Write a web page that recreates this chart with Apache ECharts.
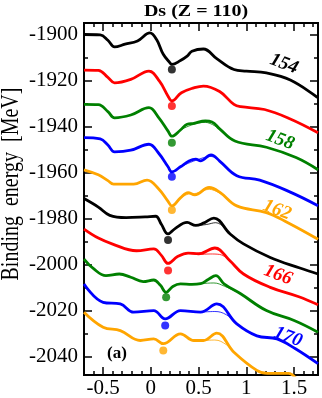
<!DOCTYPE html>
<html><head><meta charset="utf-8">
<script src="https://cdn.jsdelivr.net/npm/echarts@6/dist/echarts.min.js"></script>
<style>html,body{margin:0;padding:0;background:#fff}#c{width:322px;height:398px}</style>
</head><body><div id="c"></div>
<script>
// ---- data (x = deformation, y = binding energy MeV) ----
const c154 = [[-0.7,-1900],[-0.53,-1900.2],[-0.45,-1902.5],[-0.38,-1905.4],[-0.27,-1904.2],[-0.14,-1902.8],[-0.01,-1899.3],[0.06,-1902.2],[0.13,-1908.6],[0.2,-1912.3],[0.22,-1913],[0.31,-1911.3],[0.38,-1909.4],[0.43,-1907.3],[0.55,-1906.3],[0.69,-1910.5],[0.87,-1915.2],[1.0,-1915.9],[1.21,-1916.7],[1.46,-1919.8],[1.75,-1927.5]];
const c156 = [[-0.7,-1915.5],[-0.55,-1915.6],[-0.45,-1918.6],[-0.38,-1921],[-0.21,-1919.5],[-0.02,-1915.9],[0.09,-1920.3],[0.18,-1926.8],[0.22,-1928.9],[0.32,-1925.3],[0.45,-1923.2],[0.55,-1922.4],[0.72,-1924.8],[0.87,-1930.4],[0.94,-1931.4],[1.19,-1932.6],[1.46,-1936.7],[1.75,-1942.7]];
const c158 = [[-0.7,-1930.4],[-0.55,-1930.5],[-0.45,-1933.5],[-0.38,-1936.2],[-0.21,-1935],[-0.02,-1931.8],[0.08,-1936],[0.18,-1942],[0.22,-1944.2],[0.31,-1941.5],[0.38,-1939],[0.45,-1938.6],[0.57,-1937.6],[0.64,-1938],[0.72,-1941],[0.88,-1946.3],[1.21,-1949],[1.52,-1953.5],[1.75,-1958.8]];
const c160 = [[-0.7,-1944.8],[-0.53,-1945.4],[-0.45,-1948],[-0.38,-1951],[-0.21,-1950.3],[-0.02,-1947.7],[0.08,-1951.5],[0.18,-1957.5],[0.22,-1959.7],[0.31,-1957.5],[0.4,-1955],[0.47,-1954.2],[0.52,-1954.9],[0.63,-1952.3],[0.72,-1955],[0.9,-1961.4],[1.14,-1963.3],[1.46,-1968.5],[1.75,-1974.4]];
const c162 = [[-0.7,-1958.8],[-0.55,-1961],[-0.45,-1963.5],[-0.39,-1965],[-0.18,-1965],[-0.04,-1963.3],[0.08,-1967],[0.18,-1972.5],[0.22,-1974.5],[0.31,-1971],[0.39,-1968.7],[0.46,-1969.7],[0.61,-1966.5],[0.72,-1968.5],[0.9,-1974.5],[1.21,-1977.4],[1.43,-1981.7],[1.75,-1989]];
const c164 = [[-0.7,-1971.3],[-0.55,-1975],[-0.43,-1978.6],[-0.26,-1979.6],[-0.06,-1979.3],[0.05,-1979],[0.11,-1982.5],[0.18,-1986.7],[0.25,-1984.5],[0.38,-1981.7],[0.47,-1983],[0.55,-1982],[0.66,-1979.8],[0.83,-1986.7],[0.97,-1991],[1.25,-1996.9],[1.56,-2001.5],[1.75,-2004.1]];
const c166 = [[-0.7,-1984.6],[-0.55,-1988.5],[-0.4,-1991.1],[-0.15,-1994],[0.03,-1993.2],[0.11,-1996],[0.18,-1999.5],[0.28,-1996.5],[0.39,-1995],[0.5,-1995.3],[0.67,-1992.8],[0.82,-1998],[0.97,-2004.1],[1.25,-2009.9],[1.55,-2014],[1.75,-2017.5]];
const c168 = [[-0.7,-1997.6],[-0.6,-2001.8],[-0.47,-2004.8],[-0.33,-2004.1],[-0.21,-2005.5],[-0.08,-2007.4],[0.03,-2006.7],[0.1,-2009],[0.16,-2012.1],[0.23,-2009.5],[0.31,-2008.4],[0.43,-2008.6],[0.52,-2008.3],[0.6,-2006.5],[0.68,-2004.8],[0.77,-2008.5],[0.94,-2012.7],[1.21,-2020],[1.5,-2024.3],[1.75,-2029.4]];
const c170 = [[-0.7,-2008.4],[-0.5,-2016.4],[-0.32,-2017.1],[-0.18,-2020.7],[0.03,-2020],[0.15,-2023.6],[0.31,-2020],[0.52,-2020.7],[0.69,-2017.1],[0.9,-2025.8],[1.11,-2031],[1.32,-2032.3],[1.51,-2036.5],[1.75,-2043.1]];
const c172 = [[-0.7,-2020.7],[-0.5,-2027.2],[-0.32,-2028.7],[-0.11,-2033],[0.03,-2032.3],[0.13,-2034.4],[0.31,-2030.1],[0.45,-2033],[0.55,-2033],[0.69,-2029.8],[0.87,-2038.1],[1.11,-2046],[1.22,-2047.3],[1.44,-2047.3],[1.56,-2051],[1.75,-2056]];

// thin (second calculation) curves where they differ
const t158 = [[0.31,-1941.5],[0.43,-1939.3],[0.57,-1938.2],[0.72,-1941.2]];
const t160 = [[0.31,-1957.5],[0.47,-1954.7],[0.63,-1953],[0.77,-1957.3]];
const t162 = [[0.31,-1971],[0.39,-1969.4],[0.48,-1969],[0.61,-1967.3],[0.77,-1970.3]];
const t164 = [[0.38,-1981.7],[0.47,-1983],[0.58,-1982.6],[0.68,-1981.8],[0.83,-1986.7]];
const t166 = [[0.39,-1995],[0.5,-1995.6],[0.62,-1995.4],[0.72,-1995.6],[0.82,-1998]];
const t168 = [[0.43,-2008.6],[0.52,-2008.3],[0.66,-2008],[0.77,-2009.4],[0.94,-2012.7]];
const t170 = [[0.52,-2020.7],[0.67,-2020.4],[0.79,-2021.8],[0.9,-2025.8]];
const t172 = [[0.55,-2033],[0.67,-2032.8],[0.79,-2034.8],[0.87,-2038.1]];

// ground-state minima (dots)
const minima = [[0.22,-1915.2],[0.22,-1931.1],[0.22,-1947],[0.22,-1961.8],[0.22,-1976.3],[0.18,-1989.3],[0.18,-2002.6],[0.16,-2014.2],[0.15,-2026.5],[0.13,-2037.3]];
const neutronNumbers = ['154','156','158','160','162','164','166','168','170','172'];
const curveColors = ['#000000','#ff0000','#008000','#0000ff','#ffa500','#000000','#ff0000','#008000','#0000ff','#ffa500'];

const xMajor = [-0.5,0,0.5,1,1.5];
const xMinor = [-0.7,-0.6,-0.4,-0.3,-0.2,-0.1,0.1,0.2,0.3,0.4,0.6,0.7,0.8,0.9,1.1,1.2,1.3,1.4,1.6,1.7];
const yMajor = [-2040,-2020,-2000,-1980,-1960,-1940,-1920,-1900];
const yMinor = [-2030,-2010,-1990,-1970,-1950,-1930,-1910];

const thick = [c154,c156,c158,c160,c162,c164,c166,c168,c170,c172];
const thin = [null,null,t158,t160,t162,t164,t166,t168,t170,t172];

const FONT = 'Liberation Serif';
const series = [];
thick.forEach((d,i)=>{
  series.push({type:'line', data:d, smooth:0.4, showSymbol:false, z:3,
    lineStyle:{color:curveColors[i], width:2.8}, silent:true});
  if (thin[i]) series.push({type:'line', data:thin[i], smooth:0.4, showSymbol:false, z:4,
    lineStyle:{color:curveColors[i], width:0.8}, silent:true});
  series.push({type:'scatter', data:[minima[i]], symbolSize:8, z:5,
    itemStyle:{color:curveColors[i]}, silent:true});
});

const xMin=-0.7, xMax=1.75, yMin=-2048, yMax=-1895;
const lineCol = '#000';
const plain = v => String(v);
function xa(pos, ticks, len, labels){
  return {type:'value', position:pos, min:xMin, max:xMax,
    axisLine:{show:true, onZero:false, lineStyle:{color:lineCol, width:1.8}},
    axisTick:{show:true, inside:true, length:len, customValues:ticks, lineStyle:{color:lineCol, width:1.5}},
    axisLabel:labels ? {show:true, customValues:xMajor, formatter:plain, margin:3, color:'#000', fontFamily:FONT, fontSize:21} : {show:false},
    splitLine:{show:false}};
}
function ya(pos, ticks, len, labels){
  return {type:'value', position:pos, min:yMin, max:yMax,
    axisLine:{show:true, onZero:false, lineStyle:{color:lineCol, width:1.8}},
    axisTick:{show:true, inside:true, length:len, customValues:ticks, lineStyle:{color:lineCol, width:1.5}},
    axisLabel:labels ? {show:true, customValues:yMajor, formatter:plain, margin:6, color:'#000', fontFamily:FONT, fontSize:21} : {show:false},
    splitLine:{show:false}};
}

const labelPos = [
  {t:'154', c:'#000000', x:284, y:64},
  {t:'158', c:'#008000', x:280, y:140},
  {t:'162', c:'#ffa500', x:277, y:210},
  {t:'166', c:'#ff0000', x:278, y:275},
  {t:'170', c:'#0000ff', x:288, y:337}
];
const graphics = labelPos.map(l=>({type:'text', x:l.x, y:l.y, rotation:-0.36, z:10,
  style:{text:l.t, fill:l.c, font:'italic bold 19px "Liberation Serif"', textAlign:'center', textVerticalAlign:'middle'}}));
graphics.push({type:'text', x:196, y:12, scaleX:1.25, z:10,
  style:{text:'Ds (Z = 110)', fill:'#000', font:'bold 16px "Liberation Serif"', textAlign:'center', textVerticalAlign:'middle'}});
graphics.push({type:'text', x:117, y:354, z:10,
  style:{text:'(a)', fill:'#000', font:'bold 17px "Liberation Serif"', textAlign:'center', textVerticalAlign:'middle'}});
graphics.push({type:'text', x:11, y:184, rotation:Math.PI/2, scaleY:1.25, z:10,
  style:{text:'Binding  energy  [MeV]', fill:'#000', font:'20px "Liberation Serif"', textAlign:'center', textVerticalAlign:'middle'}});

const chart = echarts.init(document.getElementById('c'), null, {renderer:'canvas'});
chart.setOption({
  animation:false,
  backgroundColor:'#fff',
  grid:{left:84, right:4, top:23, bottom:23, containLabel:false, outerBoundsMode:'none'},
  xAxis:[xa('bottom', xMinor, 4, false), xa('bottom', xMajor, 8, true), xa('top', xMinor, 4, false), xa('top', xMajor, 8, false)],
  yAxis:[ya('left', yMinor, 4, false), ya('left', yMajor, 8, true), ya('right', yMinor, 4, false), ya('right', yMajor, 8, false)],
  series:series,
  graphic:graphics
});
</script></body></html>
